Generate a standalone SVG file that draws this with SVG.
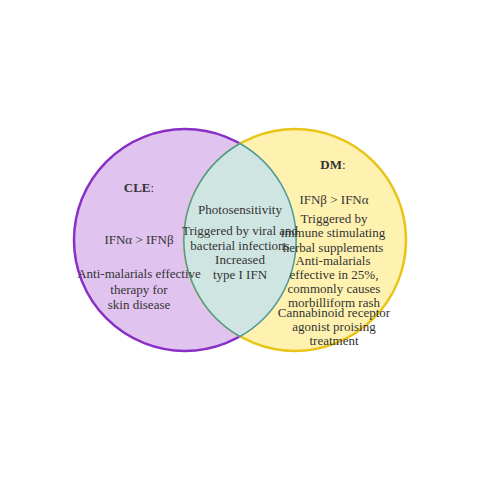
<svg xmlns="http://www.w3.org/2000/svg" width="480" height="480" viewBox="0 0 480 480">
  <style>
    text { font-family: "Liberation Serif", "Times New Roman", serif; font-size: 13px; fill: #333333; text-anchor: middle; }
    .b { font-weight: bold; }
  </style>
  <rect width="480" height="480" fill="#ffffff"/>
  <g id="cle">
    <circle cx="185" cy="240" r="111" fill="#e1c3f0" stroke="#8a2fc6" stroke-width="2.5"/>
  </g>
  <g id="dm">
    <circle cx="295" cy="240" r="111" fill="#fff2b0" stroke="#e8c417" stroke-width="2.5"/>
  </g>
  <g id="overlap">
    <path d="M240,143.5 A111,111 0 0 1 240,336.5 A111,111 0 0 1 240,143.5 Z" fill="#cfe5e2" stroke="#4f9a96" stroke-width="1.5"/>
  </g>
  <g id="cle-text">
    <text x="139" y="192"><tspan class="b">CLE</tspan>:</text>
    <text x="139" y="244">IFNα &gt; IFNβ</text>
    <text x="139" y="278">Anti-malarials effective</text>
    <text x="139" y="294">therapy for</text>
    <text x="139" y="309">skin disease</text>
  </g>
  <g id="overlap-text">
    <text x="240" y="214">Photosensitivity</text>
    <text x="240" y="235">Triggered by viral and</text>
    <text x="240" y="250">bacterial infections</text>
    <text x="240" y="264">Increased</text>
    <text x="240" y="279">type I IFN</text>
  </g>
  <g id="dm-text">
    <text x="333" y="169"><tspan class="b">DM</tspan>:</text>
    <text x="334" y="204">IFNβ &gt; IFNα</text>
    <text x="334" y="223">Triggered by</text>
    <text x="333" y="237">immune stimulating</text>
    <text x="333" y="252">herbal supplements</text>
    <text x="333" y="265">Anti-malarials</text>
    <text x="334" y="279">effective in 25%,</text>
    <text x="334" y="293">commonly causes</text>
    <text x="334" y="307">morbilliform rash</text>
    <text x="334" y="317">Cannabinoid receptor</text>
    <text x="334" y="331">agonist proising</text>
    <text x="334" y="345">treatment</text>
  </g>
</svg>
